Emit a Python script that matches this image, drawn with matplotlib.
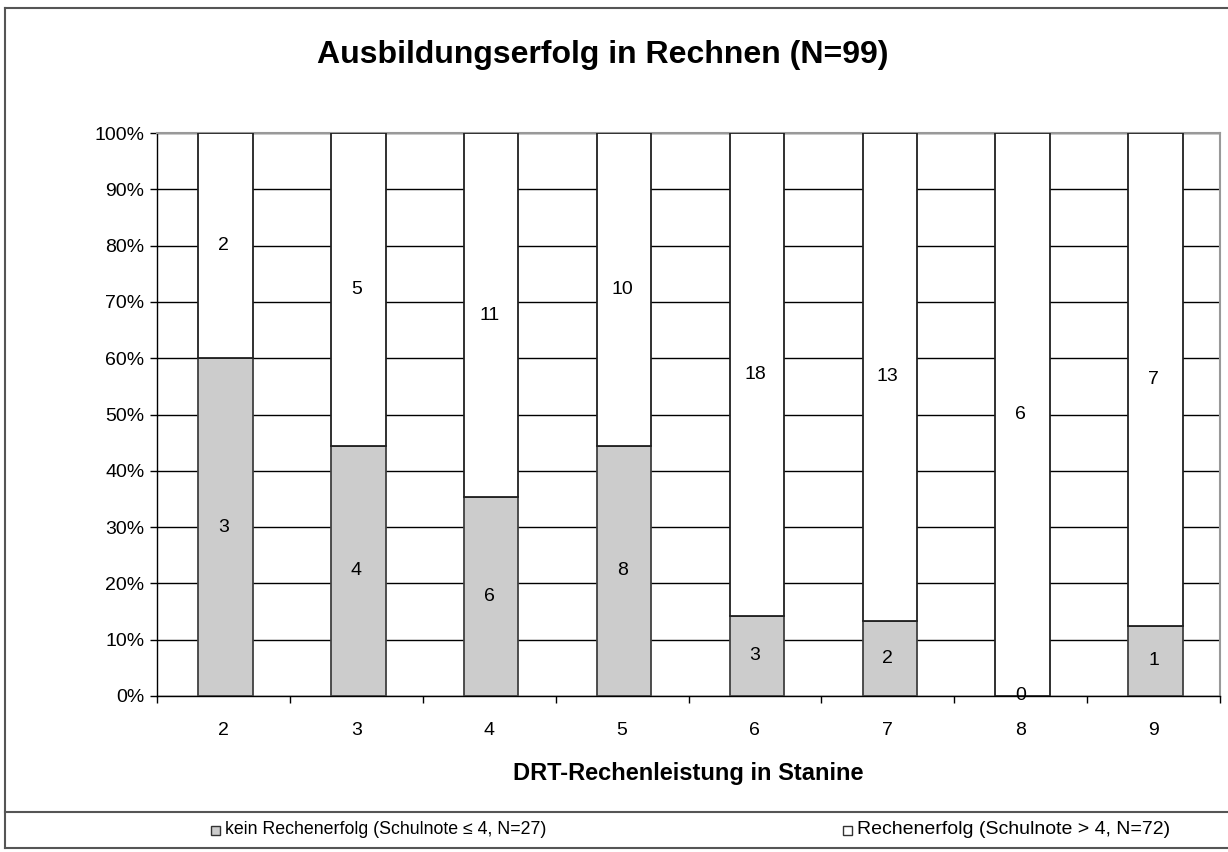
import matplotlib
matplotlib.use("Agg")
import matplotlib.pyplot as plt
from matplotlib.lines import Line2D
from matplotlib.patches import Rectangle
import numpy as np

plt.rcParams['font.family'] = ['Liberation Sans', 'DejaVu Sans']

stanine = ['2', '3', '4', '5', '6', '7', '8', '9']
kein = [3, 4, 6, 8, 3, 2, 0, 1]
erfolg = [2, 5, 11, 10, 18, 13, 6, 7]
title = 'Ausbildungserfolg in Rechnen (N=99)'
xlabel = 'DRT-Rechenleistung in Stanine'
legend_labels = ['kein Rechenerfolg (Schulnote \u2264 4, N=27)',
                 'Rechenerfolg (Schulnote > 4, N=72)']

kein_a = np.array(kein, dtype=float)
erf_a = np.array(erfolg, dtype=float)
tot = kein_a + erf_a
p_kein = kein_a / tot * 100
p_erf = erf_a / tot * 100

W, H = 1228, 852
fig = plt.figure(figsize=(W / 100, H / 100), dpi=100)
ax = fig.add_axes([157 / W, 1 - 696 / H, (1220 - 157) / W, (696 - 133) / H])

x = np.arange(len(stanine))
bw = 0.41
gray = '#cccccc'
ax.bar(x + 0.015, p_kein, bw, color=gray, edgecolor='#404040', linewidth=1.3, zorder=3)
ax.bar(x + 0.015, p_erf, bw, bottom=p_kein, color='white', edgecolor='#202020', linewidth=1.3, zorder=3)

for i in range(len(x)):
    ax.text(x[i], p_kein[i] / 2, str(kein[i]), ha='center', va='center', fontsize=14, zorder=4)
    ax.text(x[i], p_kein[i] + p_erf[i] / 2, str(erfolg[i]), ha='center', va='center', fontsize=14, zorder=4)

ax.set_xlim(-0.5, len(x) - 0.5)
ax.set_ylim(0, 100)
ax.set_yticks(np.arange(0, 101, 10))
ax.set_yticklabels([f'{v}%' for v in range(0, 101, 10)], fontsize=14)
ax.yaxis.grid(True, color='black', linewidth=1.0, zorder=0)
ax.set_axisbelow(True)

ax.set_xticks(x)
ax.set_xticklabels(stanine, fontsize=14)
ax.set_xticks(np.arange(-0.5, len(x), 1), minor=True)
ax.tick_params(axis='x', which='major', length=0, pad=19)
ax.tick_params(axis='x', which='minor', length=5, width=1, direction='out')
ax.tick_params(axis='y', length=5, width=1, direction='out', pad=4)

for s in ['top', 'right']:
    ax.spines[s].set_color('#999999')
    ax.spines[s].set_linewidth(1.5)
for s in ['left', 'bottom']:
    ax.spines[s].set_color('black')
    ax.spines[s].set_linewidth(1.0)

ax.set_xlabel(xlabel, fontsize=17, fontweight='bold', labelpad=16)

fig.text(603 / W, 1 - 55 / H, title, ha='center', va='center', fontsize=23, fontweight='bold')

# outer frame & legend separator
frame_col = '#555555'
fig.add_artist(Line2D([5 / W, 5 / W], [1 - 8 / H, 1 - 848 / H], color=frame_col, lw=1.5))
fig.add_artist(Line2D([5 / W, 1], [1 - 8 / H, 1 - 8 / H], color=frame_col, lw=1.5))
fig.add_artist(Line2D([5 / W, 1], [1 - 812 / H, 1 - 812 / H], color=frame_col, lw=1.5))
fig.add_artist(Line2D([5 / W, 1], [1 - 848 / H, 1 - 848 / H], color=frame_col, lw=1.5))

# legend
ly = 1 - 830 / H
for mx, col, lab, fs in [(211, gray, legend_labels[0], 12.8), (843, 'white', legend_labels[1], 14.0)]:
    fig.add_artist(Rectangle((mx / W, ly - 4.5 / H), 9 / W, 9 / H, transform=fig.transFigure,
                             facecolor=col, edgecolor='#333333', lw=1))
    fig.text((mx + 14) / W, ly, lab, ha='left', va='center', fontsize=fs)

fig.savefig('out.png', dpi=100)
